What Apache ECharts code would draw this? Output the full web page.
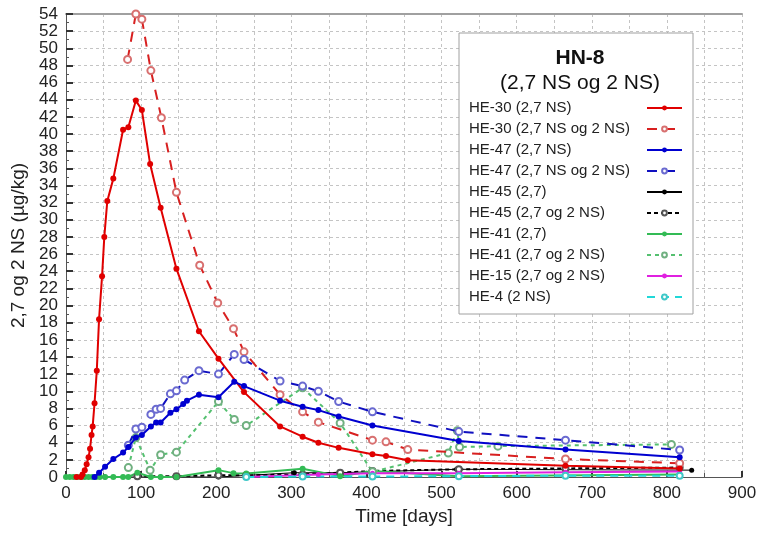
<!DOCTYPE html>
<html>
<head>
<meta charset="utf-8">
<script src="https://cdn.jsdelivr.net/npm/echarts@6/dist/echarts.min.js"></script>
<style>
  html, body { margin: 0; padding: 0; background: #fff; }
  #chart { width: 761px; height: 537px; }
</style>
</head>
<body>
<div id="chart"></div>
<script>
// HE-30 (2,7 NS)
const he30aDays = [14, 20, 22, 25, 27.5, 30, 32, 34, 35.5, 38, 41, 44, 48, 51, 55, 63, 76, 83, 93, 101, 112, 126, 147, 177, 203, 237, 285, 315, 336, 363, 408, 426, 455, 665, 817];
const he30aVals = [0, 0, 0.3, 0.8, 1.5, 2.3, 3.3, 4.9, 5.9, 8.6, 12.4, 18.4, 23.4, 28.0, 32.2, 34.8, 40.5, 40.8, 43.9, 42.8, 36.5, 31.4, 24.3, 17.0, 13.8, 9.9, 5.9, 4.7, 4.0, 3.4, 2.65, 2.45, 1.95, 1.3, 1.0];
// HE-30 (2,7 NS og 2 NS)
const he30bDays = [82, 93, 101, 113, 127, 147, 178, 202, 223, 237, 285, 315, 336, 408, 426, 455, 665, 817];
const he30bVals = [48.7, 54.0, 53.4, 47.4, 41.9, 33.2, 24.7, 20.3, 17.3, 14.6, 9.6, 7.6, 6.4, 4.3, 4.1, 3.2, 2.1, 1.6];
// HE-47 (2,7 NS)
const he47aDays = [38, 44, 52, 63, 76, 83, 93, 101, 113, 120, 126, 139, 147, 156, 161, 177, 203, 224, 237, 285, 315, 336, 363, 408, 523, 665, 817];
const he47aVals = [0, 0.5, 1.2, 2.1, 2.85, 3.5, 4.6, 4.9, 5.9, 6.35, 6.35, 7.5, 7.9, 8.5, 8.9, 9.6, 9.3, 11.1, 10.6, 8.9, 8.2, 7.8, 7.05, 6.0, 4.2, 3.2, 2.3];
// HE-47 (2,7 NS og 2 NS)
const he47bDays = [83, 93, 101, 113, 120, 126, 139, 147, 158, 177, 203, 224, 237, 285, 315, 336, 363, 408, 523, 665, 817];
const he47bVals = [3.7, 5.6, 5.8, 7.3, 7.9, 8.0, 9.7, 10.05, 11.3, 12.4, 12.0, 14.3, 13.7, 11.2, 10.6, 10.0, 8.8, 7.6, 5.3, 4.3, 3.15];
// HE-45 (2,7)
const he45aDays = [52, 95, 126, 203, 304, 365, 520, 833];
const he45aVals = [0, 0, 0, 0, 0.5, 0.5, 0.9, 0.8];
// HE-45 (2,7 og 2 NS)
const he45bDays = [95, 147, 203, 240, 315, 365, 408, 523, 665, 817];
const he45bVals = [0.1, 0.1, 0.2, 0.2, 0.3, 0.5, 0.7, 0.9, 1.0, 1.1];
// HE-41 (2,7)
const he41aDays = [0, 5, 10, 15, 20, 25, 30, 35, 40, 45, 52, 63, 76, 83, 95, 113, 126, 147, 203, 223, 240, 315, 365, 408, 523, 817];
const he41aVals = [0, 0, 0, 0, 0, 0, 0, 0, 0, 0, 0, 0, 0, 0, 0.5, 0, 0, 0, 0.8, 0.45, 0.4, 0.95, 0.1, 0.7, 0.1, 0.3];
// HE-41 (2,7 og 2 NS)
const he41bDays = [83, 93, 112, 126, 147, 203, 224, 240, 315, 365, 408, 509, 521, 524, 575, 806];
const he41bVals = [1.1, 4.6, 0.8, 2.6, 2.9, 8.8, 6.7, 6.0, 10.4, 6.3, 0.6, 2.8, 5.4, 3.5, 3.6, 3.8];
// HE-15 (2,7 og 2 NS)
const he15Days = [240, 336, 408, 523, 665, 817];
const he15Vals = [0, 0.3, 0.45, 0.45, 0.55, 0.65];
// HE-4 (2 NS)
const he4Days = [240, 315, 408, 523, 665, 817];
const he4Vals = [0, 0.05, 0.05, 0.1, 0.15, 0.15];

const xTicks = [0, 900, 100];   // min, max, interval
const yTicks = [0, 54, 2];

const FONT = '"Liberation Sans", Arial, sans-serif';

function pairs(days, vals) {
  return days.map((d, i) => [d, vals[i]]);
}

// one line series, solid or dashed
function line(name, days, vals, color, opt) {
  return {
    name: name,
    type: 'line',
    data: pairs(days, vals),
    symbol: opt.open ? 'emptyCircle' : 'circle',
    symbolSize: opt.size || 6,
    showSymbol: true,
    animation: false,
    z: opt.z || 2,
    lineStyle: {
      color: color,
      width: opt.width || 2,
      type: opt.dash || 'solid'
    },
    itemStyle: {
      color: opt.ring || color,
      borderWidth: 1
    }
  };
}

const chart = echarts.init(document.getElementById('chart'), null, { renderer: 'canvas' });

const gridLine = { show: true, lineStyle: { color: '#c4c4c4', type: [3, 3], width: 1 } };

const option = {
  backgroundColor: '#fff',
  animation: false,
  title: {
    text: 'HN-8',
    subtext: '(2,7 NS og 2 NS)',
    left: 575,
    top: 43,
    textAlign: 'center',
    itemGap: 4,
    z: 10,
    textStyle: { fontFamily: FONT, fontSize: 21, fontWeight: 'bold', color: '#111' },
    subtextStyle: { fontFamily: FONT, fontSize: 21, color: '#111' }
  },
  legend: {
    orient: 'vertical',
    left: 459,
    top: 33,
    align: 'right',
    padding: [67, 10, 9, 10],
    itemGap: 5,
    itemWidth: 35,
    itemHeight: 6,
    backgroundColor: '#fff',
    borderColor: '#a0a0a0',
    borderWidth: 1,
    formatter: name => '{n|' + name + '}',
    textStyle: {
      fontFamily: FONT, fontSize: 15, color: '#222', lineHeight: 16,
      rich: { n: { width: 173, align: 'left', fontFamily: FONT, fontSize: 15, color: '#222', lineHeight: 16 } }
    }
  },
  grid: { left: 66, right: 19, top: 14, bottom: 60 },
  xAxis: [{
    type: 'value',
    min: xTicks[0], max: xTicks[1], interval: xTicks[2],
    name: 'Time [days]',
    nameLocation: 'middle',
    nameGap: 30,
    nameTextStyle: { fontFamily: FONT, fontSize: 19, color: '#222' },
    axisLine: { lineStyle: { color: '#555', width: 1 } },
    axisTick: { inside: true, length: 6, lineStyle: { color: '#333', width: 2 } },
    minorTick: { show: true, splitNumber: 2, length: 4, lineStyle: { color: '#555' } },
    axisLabel: { fontFamily: FONT, fontSize: 17, color: '#222', margin: 8 },
    splitLine: gridLine,
    minorSplitLine: gridLine
  }, {
    // top frame line
    type: 'value', position: 'top',
    min: xTicks[0], max: xTicks[1],
    axisLine: { show: true, lineStyle: { color: '#a0a0a0', width: 2 } },
    axisTick: { show: false }, axisLabel: { show: false }, splitLine: { show: false }
  }],
  yAxis: {
    type: 'value',
    min: yTicks[0], max: yTicks[1], interval: yTicks[2],
    name: '2,7 og 2 NS (µg/kg)',
    nameLocation: 'middle',
    nameGap: 36,
    nameTextStyle: { fontFamily: FONT, fontSize: 19, color: '#222' },
    axisLine: { show: true, lineStyle: { color: '#555', width: 1 } },
    axisTick: { show: true, inside: true, length: 7, lineStyle: { color: '#333', width: 2 } },
    minorTick: { show: true, splitNumber: 2, length: 3, lineStyle: { color: '#555' } },
    axisLabel: { fontFamily: FONT, fontSize: 17, color: '#222', margin: 8 },
    splitLine: gridLine
  },
  series: [
    line('HE-30 (2,7 NS)', he30aDays, he30aVals, '#e00000', { z: 5 }),
    line('HE-30 (2,7 NS og 2 NS)', he30bDays, he30bVals, '#d82020', { open: true, dash: [10, 8], size: 7, ring: '#d87070', z: 4 }),
    line('HE-47 (2,7 NS)', he47aDays, he47aVals, '#0000d0', { z: 5 }),
    line('HE-47 (2,7 NS og 2 NS)', he47bDays, he47bVals, '#1010c0', { open: true, dash: [10, 8], size: 7, ring: '#6a6ad0', z: 4 }),
    line('HE-45 (2,7)', he45aDays, he45aVals, '#000', { width: 1, size: 5, z: 3 }),
    line('HE-45 (2,7 og 2 NS)', he45bDays, he45bVals, '#000', { open: true, dash: [4, 3], size: 6, ring: '#555', z: 3 }),
    line('HE-41 (2,7)', he41aDays, he41aVals, '#33bb55', { z: 3 }),
    line('HE-41 (2,7 og 2 NS)', he41bDays, he41bVals, '#55c070', { open: true, dash: [4, 4], size: 7, ring: '#70b080', z: 3 }),
    line('HE-15 (2,7 og 2 NS)', he15Days, he15Vals, '#e020e0', { size: 5, z: 3 }),
    line('HE-4 (2 NS)', he4Days, he4Vals, '#20d8d8', { open: true, dash: [8, 6], size: 6, ring: '#40c8c8', z: 3 })
  ]
};

chart.setOption(option);
</script>
</body>
</html>
